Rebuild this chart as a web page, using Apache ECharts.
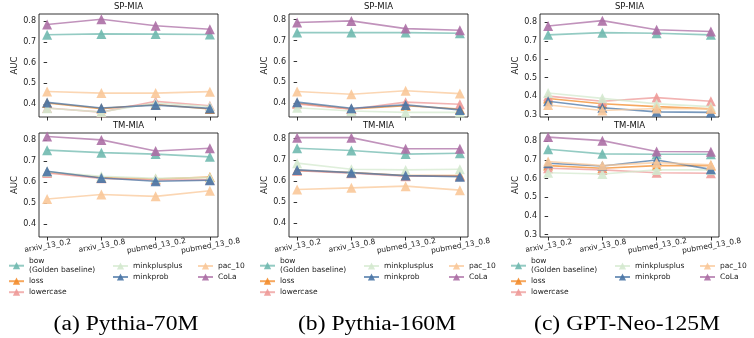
<!DOCTYPE html>
<html>
<head>
<meta charset="utf-8">
<script src="https://cdn.jsdelivr.net/npm/echarts@6/dist/echarts.min.js"></script>
<style>
html, body { margin: 0; padding: 0; background: #fff; }
#main { width: 754px; height: 338px; }
</style>
</head>
<body>
<div id="main"></div>
<script>
// categories on the x axis, methods in plotting order
const categories = ['arxiv_13_0.2', 'arxiv_13_0.8', 'pubmed_13_0.2', 'pubmed_13_0.8'];
const methods = ['bow', 'loss', 'lowercase', 'minkplusplus', 'minkprob', 'pac_10', 'CoLa'];
const yTicksPythia = [0.4, 0.5, 0.6, 0.7, 0.8];
const yTicksNeo = [0.3, 0.4, 0.5, 0.6, 0.7, 0.8];

// AUC values, one row per method (same order as methods)
const pythia70mSP = [
    [0.735, 0.739, 0.738, 0.736],
    [0.405, 0.378, 0.398, 0.376],
    [0.381, 0.361, 0.413, 0.392],
    [0.380, 0.362, 0.405, 0.388],
    [0.408, 0.381, 0.395, 0.379],
    [0.461, 0.453, 0.453, 0.460],
    [0.784, 0.810, 0.778, 0.761]
];
const pythia70mTM = [
    [0.753, 0.741, 0.734, 0.721],
    [0.648, 0.622, 0.615, 0.624],
    [0.644, 0.618, 0.610, 0.611],
    [0.650, 0.628, 0.618, 0.622],
    [0.652, 0.620, 0.604, 0.609],
    [0.519, 0.541, 0.532, 0.559],
    [0.818, 0.802, 0.749, 0.762]
];
const pythia160mSP = [
    [0.738, 0.738, 0.738, 0.735],
    [0.400, 0.372, 0.388, 0.372],
    [0.397, 0.371, 0.405, 0.395],
    [0.378, 0.363, 0.356, 0.356],
    [0.405, 0.376, 0.392, 0.368],
    [0.456, 0.443, 0.460, 0.446],
    [0.786, 0.794, 0.757, 0.749]
];
const pythia160mTM = [
    [0.755, 0.744, 0.727, 0.731],
    [0.650, 0.640, 0.625, 0.625],
    [0.648, 0.636, 0.622, 0.622],
    [0.684, 0.655, 0.652, 0.655],
    [0.652, 0.639, 0.625, 0.620],
    [0.559, 0.567, 0.575, 0.556],
    [0.805, 0.805, 0.752, 0.752]
];
const neo125mSP = [
    [0.732, 0.744, 0.741, 0.732],
    [0.387, 0.359, 0.343, 0.331],
    [0.400, 0.372, 0.392, 0.372],
    [0.417, 0.388, 0.358, 0.343],
    [0.372, 0.337, 0.315, 0.312],
    [0.352, 0.322, 0.333, 0.332],
    [0.780, 0.809, 0.760, 0.750]
];
const neo125mTM = [
    [0.758, 0.733, 0.731, 0.731],
    [0.670, 0.656, 0.670, 0.670],
    [0.656, 0.647, 0.632, 0.629],
    [0.632, 0.625, 0.647, 0.647],
    [0.683, 0.668, 0.700, 0.650],
    [0.692, 0.670, 0.686, 0.674],
    [0.823, 0.804, 0.746, 0.744]
];

const colors = {
    bow: '#70B9AF',
    loss: '#F38B2A',
    lowercase: '#EE9A98',
    minkplusplus: '#D4E9CF',
    minkprob: '#4A75A6',
    pac_10: '#FAC899',
    CoLa: '#AC6FA5'
};

const figures = [
    { caption: '(a) Pythia-70M', x0: 39, cx: 126, dx: 0, sp: pythia70mSP, tm: pythia70mTM, yMin: 0.3375, yMax: 0.835, yTicks: yTicksPythia },
    { caption: '(b) Pythia-160M', x0: 289, cx: 377, dx: 251, sp: pythia160mSP, tm: pythia160mTM, yMin: 0.334, yMax: 0.827, yTicks: yTicksPythia },
    { caption: '(c) GPT-Neo-125M', x0: 540, cx: 627, dx: 502, sp: neo125mSP, tm: neo125mTM, yMin: 0.287, yMax: 0.845, yTicks: yTicksNeo }
];

const font = 'DejaVu Sans';
const grids = [], xAxes = [], yAxes = [], series = [], legends = [], graphics = [];

figures.forEach(function (fig) {
    [['SP-MIA', fig.sp, 14, 103], ['TM-MIA', fig.tm, 133, 104]].forEach(function (panel, p) {
        const idx = grids.length;
        grids.push({
            left: fig.x0, top: panel[2], width: 179, height: panel[3],
            show: true, borderColor: '#000', borderWidth: 0.8, backgroundColor: 'transparent'
        });
        xAxes.push({
            type: 'value', gridIndex: idx, min: -0.15, max: 3.15,
            axisLine: { show: false },
            splitLine: { show: false },
            axisTick: { show: true, customValues: [0, 1, 2, 3], length: 3.5, lineStyle: { color: '#000', width: 0.8 } },
            axisLabel: {
                show: p === 1,
                customValues: [0, 1, 2, 3],
                formatter: function (v) { return categories[Math.round(v)]; },
                rotate: 10, align: 'center', verticalAlign: 'top',
                margin: 5, fontSize: 7.5, fontFamily: font, color: '#222'
            }
        });
        yAxes.push({
            type: 'value', gridIndex: idx, min: fig.yMin, max: fig.yMax,
            name: 'AUC', nameLocation: 'middle', nameRotate: 90, nameGap: 18,
            nameTextStyle: { fontSize: 8.5, fontFamily: font, color: '#222' },
            axisLine: { show: false },
            splitLine: { show: false },
            axisTick: { show: true, customValues: fig.yTicks, length: 3.5, lineStyle: { color: '#000', width: 0.8 } },
            axisLabel: {
                customValues: fig.yTicks,
                formatter: function (v) { return v.toFixed(1); },
                margin: 3, fontSize: 8, fontFamily: font, color: '#222'
            }
        });
        methods.forEach(function (m, k) {
            series.push({
                name: m, type: 'line', xAxisIndex: idx, yAxisIndex: idx,
                data: panel[1][k].map(function (v, j) { return [j, v]; }),
                symbol: 'triangle', symbolSize: 10,
                lineStyle: { width: 1.6, color: colors[m], opacity: 0.75 },
                itemStyle: { color: colors[m], opacity: 0.9 },
                z: 2 + k,
                animation: false
            });
        });
        graphics.push({
            type: 'text', x: fig.x0 + 89.5, y: panel[2] - 7,
            style: { text: panel[0], font: '8.5px "DejaVu Sans"', fill: '#111', textAlign: 'center', textVerticalAlign: 'middle' }
        });
    });

    const legendBase = {
        orient: 'vertical', padding: 0, itemWidth: 15, itemHeight: 9, itemGap: 2,
        textStyle: { fontSize: 7.5, lineHeight: 9, fontFamily: font, color: '#222' },
        formatter: function (n) { return n === 'bow' ? 'bow\n(Golden baseline)' : n; },
        selectedMode: false
    };
    legends.push(Object.assign({}, legendBase, { left: 8 + fig.dx, top: 256.7, data: ['bow', 'loss', 'lowercase'] }));
    legends.push(Object.assign({}, legendBase, { left: 112 + fig.dx, top: 261.5, data: ['minkplusplus', 'minkprob'] }));
    legends.push(Object.assign({}, legendBase, { left: 197 + fig.dx, top: 261.5, data: ['pac_10', 'CoLa'] }));

    graphics.push({
        type: 'text', x: fig.cx, y: 325, scaleX: 1.18,
        style: { text: fig.caption, font: '20px "Liberation Serif"', fill: '#000', textAlign: 'center', textVerticalAlign: 'middle' }
    });
});

const chart = echarts.init(document.getElementById('main'));
chart.setOption({
    animation: false,
    grid: grids,
    xAxis: xAxes,
    yAxis: yAxes,
    legend: legends,
    series: series,
    graphic: graphics
});
</script>
</body>
</html>
